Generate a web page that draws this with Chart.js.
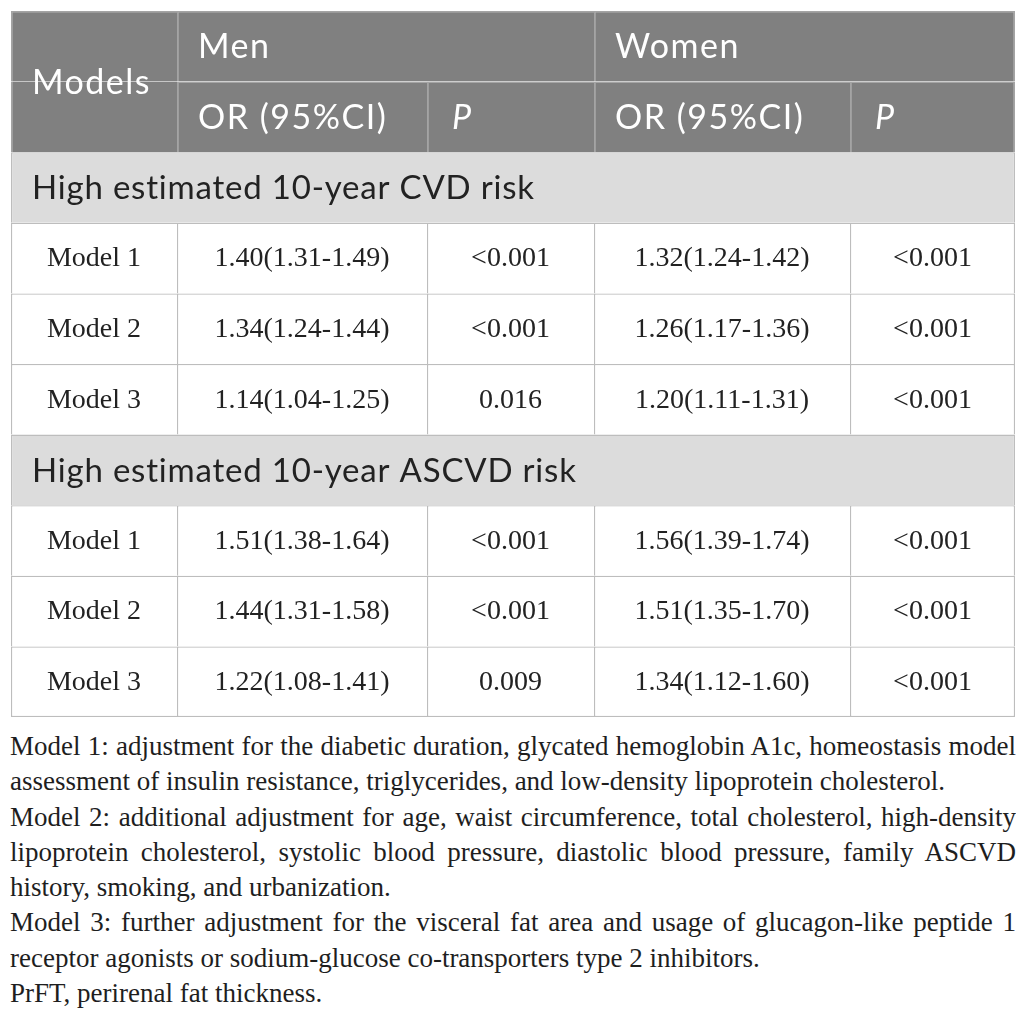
<!DOCTYPE html>
<html>
<head>
<meta charset="utf-8">
<script src="https://cdn.jsdelivr.net/npm/chart.js@4.4.1/dist/chart.umd.min.js"></script>
<style>
  html, body { margin: 0; padding: 0; background: #fff; }
  .wrap { position: relative; width: 1026px; height: 1018px; overflow: hidden; }
  #table { position: absolute; left: 0; top: 0; }
  .notes { position: absolute; left: 10px; top: 729px; width: 1006px;
           font-family: 'Liberation Serif', serif; font-size: 27px; color: #1e1e1e; }
  .notes div { height: 35.3px; line-height: 35.3px; overflow: hidden; white-space: nowrap; }
  .notes .j { text-align: justify; text-align-last: justify; white-space: normal; }
</style>
</head>
<body>
<div class="wrap">
  <canvas id="table" width="1026" height="728"></canvas>
  <div class="notes">
    <div class="j">Model 1: adjustment for the diabetic duration, glycated hemoglobin A1c, homeostasis model</div>
    <div>assessment of insulin resistance, triglycerides, and low-density lipoprotein cholesterol.</div>
    <div class="j">Model 2: additional adjustment for age, waist circumference, total cholesterol, high-density</div>
    <div class="j">lipoprotein cholesterol, systolic blood pressure, diastolic blood pressure, family ASCVD</div>
    <div>history, smoking, and urbanization.</div>
    <div class="j">Model 3: further adjustment for the visceral fat area and usage of glucagon-like peptide 1</div>
    <div>receptor agonists or sodium-glucose co-transporters type 2 inhibitors.</div>
    <div>PrFT, perirenal fat thickness.</div>
  </div>
</div>
<script>
// table values
const models = ['Model 1', 'Model 2', 'Model 3'];
const outcomes = ['High estimated 10-year CVD risk', 'High estimated 10-year ASCVD risk'];
const sexes = ['Men', 'Women'];
const statLabels = ['OR (95%CI)', 'P'];

const cvdMenOR = ['1.40(1.31-1.49)', '1.34(1.24-1.44)', '1.14(1.04-1.25)'];
const cvdMenP = ['<0.001', '<0.001', '0.016'];
const cvdWomenOR = ['1.32(1.24-1.42)', '1.26(1.17-1.36)', '1.20(1.11-1.31)'];
const cvdWomenP = ['<0.001', '<0.001', '<0.001'];

const ascvdMenOR = ['1.51(1.38-1.64)', '1.44(1.31-1.58)', '1.22(1.08-1.41)'];
const ascvdMenP = ['<0.001', '<0.001', '0.009'];
const ascvdWomenOR = ['1.56(1.39-1.74)', '1.51(1.35-1.70)', '1.34(1.12-1.60)'];
const ascvdWomenP = ['<0.001', '<0.001', '<0.001'];

// layout
const colWidths = [166, 250, 167, 256, 165];
const edges = colWidths.reduce((a, w) => { a.push(a[a.length - 1] + w); return a; }, [0]);
const fills = { head: '#808080', section: '#dcdcdc', body: '#ffffff' };
const lines = { head: '#a4a4a4', section: '#bdbdbd', body: '#bdbdbd' };
const fonts = {
    head: '34px Lato',
    section: '33px Lato',
    body: '28px "Liberation Serif"'
};
const spacing = { head: '1.5px', section: '0.8px', body: '0px' };
const textColors = { head: '#ffffff', section: '#222222', body: '#222222' };
const lineW = 1.3;

const cells = [];
const addCell = (row, c0, c1, text, kind, extra) => {
    cells.push(Object.assign({ row, c0, c1, text, kind }, extra || {}));
};

addCell(0, 0, 1, 'Models', 'head', { span: 2 });
addCell(0, 1, 3, sexes[0], 'head');
addCell(0, 3, 5, sexes[1], 'head');
addCell(1, 0, 1, '', 'head', { noTop: true });
addCell(1, 1, 2, statLabels[0], 'head');
addCell(1, 2, 3, statLabels[1], 'head', { italic: true });
addCell(1, 3, 4, statLabels[0], 'head');
addCell(1, 4, 5, statLabels[1], 'head', { italic: true });

const blocks = [
    { title: outcomes[0], cols: [cvdMenOR, cvdMenP, cvdWomenOR, cvdWomenP] },
    { title: outcomes[1], cols: [ascvdMenOR, ascvdMenP, ascvdWomenOR, ascvdWomenP] }
];
let r = 2;
blocks.forEach(b => {
    addCell(r, 0, 5, b.title, 'section');
    r++;
    models.forEach((m, i) => {
        addCell(r, 0, 1, m, 'body');
        b.cols.forEach((col, k) => addCell(r, k + 1, k + 2, col[i], 'body'));
        r++;
    });
});
const rowCount = r;
const rowKeys = Array.from({ length: rowCount }, (_, i) => 'row' + i);

const cellBorder = c => ({
    left: lineW,
    top: c.noTop ? 0 : lineW,
    right: c.c1 === colWidths.length ? lineW : 0,
    bottom: c.row === rowCount - 1 ? lineW : 0
});

// one dataset per slot in a row, bars overlap (grouped: false)
const datasets = [];
const slotUsed = {};
cells.forEach(c => {
    const slot = slotUsed[c.row] || 0;
    slotUsed[c.row] = slot + 1;
    if (!datasets[slot]) {
        datasets[slot] = {
            label: 'slot' + slot,
            data: [],
            grouped: false,
            categoryPercentage: 1,
            barPercentage: 1,
            borderSkipped: false,
            inflateAmount: 0,
            backgroundColor: [],
            borderColor: [],
            borderWidth: []
        };
    }
    const ds = datasets[slot];
    ds.data.push({ y: rowKeys[c.row], x: [edges[c.c0], edges[c.c1]], cell: c });
    ds.backgroundColor.push(fills[c.kind]);
    ds.borderColor.push(lines[c.kind]);
    ds.borderWidth.push(cellBorder(c));
});

const cellText = {
    id: 'cellText',
    afterDatasetsDraw(chart) {
        const ctx = chart.ctx;
        ctx.save();
        chart.data.datasets.forEach((ds, i) => {
            chart.getDatasetMeta(i).data.forEach((bar, j) => {
                const c = ds.data[j].cell;
                if (!c.text) return;
                const p = bar.getProps(['x', 'y', 'base', 'height'], true);
                const left = Math.min(p.x, p.base);
                const right = Math.max(p.x, p.base);
                const y = p.y + (c.span ? (c.span - 1) * p.height / 2 : 0);
                ctx.font = (c.italic ? 'italic ' : '') + fonts[c.kind];
                ctx.letterSpacing = spacing[c.kind];
                ctx.fillStyle = textColors[c.kind];
                ctx.textBaseline = 'middle';
                if (c.kind === 'body') {
                    ctx.textAlign = 'center';
                    ctx.fillText(c.text, (left + right) / 2, y + 1);
                } else {
                    ctx.textAlign = 'left';
                    ctx.fillText(c.text, left + (c.italic ? 25 : 21), y + 1);
                }
            });
        });
        ctx.restore();
    }
};

new Chart(document.getElementById('table').getContext('2d'), {
    type: 'bar',
    data: { labels: rowKeys, datasets: datasets },
    options: {
        responsive: false,
        animation: false,
        indexAxis: 'y',
        layout: { padding: { left: 11, right: 11, top: 11, bottom: 11 } },
        plugins: {
            colors: { enabled: false },
            legend: { display: false },
            tooltip: { enabled: false }
        },
        scales: {
            x: { type: 'linear', min: 0, max: edges[edges.length - 1], display: false },
            y: { type: 'category', display: false, offset: true }
        }
    },
    plugins: [cellText]
});
</script>
</body>
</html>
